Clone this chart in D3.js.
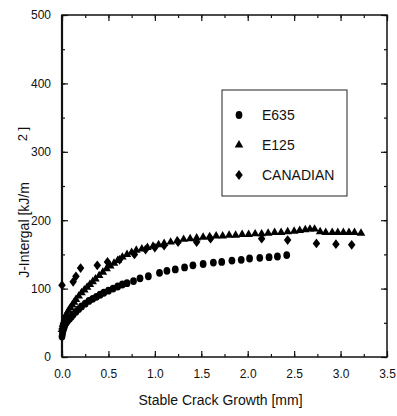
<!DOCTYPE html>
<html>
<head>
<meta charset="utf-8">
<script src="https://cdn.jsdelivr.net/npm/d3@7"></script>
<style>
  body { margin: 0; background: #fff; }
  text { font-family: "Liberation Sans", Arial, sans-serif; fill: #111; }
</style>
</head>
<body>
<div id="chart"></div>
<script>
// E635 (circles)
const e635X = [0, 0.005, 0.01, 0.02, 0.03, 0.045, 0.06, 0.08, 0.1, 0.12, 0.15, 0.18, 0.21, 0.25, 0.29, 0.33, 0.37, 0.41, 0.45, 0.5, 0.55, 0.6, 0.65, 0.7, 0.77, 0.84, 0.93, 1.05, 1.13, 1.22, 1.32, 1.41, 1.52, 1.63, 1.72, 1.83, 1.93, 2.02, 2.13, 2.23, 2.32, 2.42];
const e635Y = [30, 34, 38, 42, 46, 50, 53, 56, 59, 62, 66, 70, 74, 78, 82, 85, 88, 91, 94, 97, 100, 103, 106, 108, 111, 115, 118, 123, 126, 128, 131, 134, 136, 138, 139, 141, 142, 144, 145, 146, 147, 149];
// E125 (triangles)
const e125X = [0, 0.005, 0.01, 0.02, 0.03, 0.04, 0.05, 0.07, 0.09, 0.11, 0.13, 0.15, 0.18, 0.21, 0.24, 0.27, 0.3, 0.33, 0.36, 0.4, 0.44, 0.48, 0.52, 0.56, 0.6, 0.65, 0.7, 0.75, 0.8, 0.86, 0.92, 0.98, 1.04, 1.1, 1.17, 1.24, 1.31, 1.38, 1.45, 1.52, 1.59, 1.66, 1.73, 1.8, 1.87, 1.94, 2.01, 2.08, 2.15, 2.22, 2.29, 2.36, 2.43, 2.5, 2.56, 2.62, 2.67, 2.72, 2.78, 2.84, 2.91, 2.97, 3.03, 3.09, 3.15, 3.22];
const e125Y = [40, 44, 48, 52, 56, 60, 63, 68, 72, 76, 80, 84, 89, 94, 98, 102, 106, 110, 114, 119, 124, 129, 133, 137, 141, 146, 150, 153, 156, 158, 160, 162, 164, 166, 168, 170, 172, 173, 174, 175, 176, 177, 177, 178, 178, 179, 179, 180, 180, 181, 182, 182, 183, 184, 185, 186, 187, 187, 183, 182, 182, 182, 182, 182, 182, 181];
// CANADIAN (diamonds)
const canX = [0.0, 0.12, 0.15, 0.2, 0.38, 0.49, 0.62, 0.78, 0.9, 1.0, 1.1, 1.25, 1.45, 1.6, 2.15, 2.43, 2.74, 2.95, 3.12];
const canY = [105, 110, 118, 130, 134, 139, 142, 150, 157, 160, 163, 168, 168, 173, 173, 171, 166, 165, 164];

const seriesNames = ["E635", "E125", "CANADIAN"];
const xTicks = [0, 0.5, 1.0, 1.5, 2.0, 2.5, 3.0, 3.5];
const yTicks = [0, 100, 200, 300, 400, 500];
const xTitle = "Stable Crack Growth [mm]";
const yTitle = "J-Intergal [kJ/m";
const yTitleSup = "2 ]";

const width = 397, height = 416;
const margin = { top: 15, right: 10, bottom: 59, left: 62 };
const w = width - margin.left - margin.right;
const h = height - margin.top - margin.bottom;

const svg = d3.select("#chart").append("svg")
    .attr("width", width).attr("height", height);
const g = svg.append("g").attr("transform", `translate(${margin.left},${margin.top})`);

const x = d3.scaleLinear().domain([0, 3.5]).range([0, w]);
const y = d3.scaleLinear().domain([0, 500]).range([h, 0]);

const xMinor = d3.range(0, 3.5001, 0.25);
const yMinor = d3.range(0, 500.1, 50);

//Axes with inward ticks
function styleAxis(sel) {
    sel.select(".domain").remove();
    sel.selectAll("line").attr("stroke", "#111").attr("stroke-width", 1.2);
    sel.selectAll("text").attr("font-size", 12).attr("fill", "#111");
}
g.append("g").attr("transform", `translate(0,${h})`)
    .call(d3.axisBottom(x).tickValues(xMinor).tickSize(-3).tickFormat(""))
    .call(styleAxis);
g.append("g").attr("transform", `translate(0,${h})`)
    .call(d3.axisBottom(x).tickValues(xTicks).tickSize(-6).tickPadding(12).tickFormat(d3.format(".1f")))
    .call(styleAxis);
g.append("g")
    .call(d3.axisTop(x).tickValues(xMinor).tickSize(-3).tickFormat(""))
    .call(styleAxis);
g.append("g")
    .call(d3.axisTop(x).tickValues(xTicks).tickSize(-6).tickFormat(""))
    .call(styleAxis);
g.append("g")
    .call(d3.axisLeft(y).tickValues(yMinor).tickSize(-3).tickFormat(""))
    .call(styleAxis);
g.append("g")
    .call(d3.axisLeft(y).tickValues(yTicks).tickSize(-6).tickPadding(11).tickFormat(d3.format("d")))
    .call(styleAxis);
g.append("g").attr("transform", `translate(${w},0)`)
    .call(d3.axisRight(y).tickValues(yMinor).tickSize(-3).tickFormat(""))
    .call(styleAxis);
g.append("g").attr("transform", `translate(${w},0)`)
    .call(d3.axisRight(y).tickValues(yTicks).tickSize(-6).tickFormat(""))
    .call(styleAxis);

//Frame
g.append("rect").attr("width", w).attr("height", h)
    .attr("fill", "none").attr("stroke", "#111").attr("stroke-width", 1.5);
g.append("line").attr("x1", 0).attr("x2", 0).attr("y1", 0).attr("y2", h)
    .attr("stroke", "#111").attr("stroke-width", 2.2);

//Markers
const shapes = [d3.symbolCircle, d3.symbolTriangle, d3.symbolDiamond];
const sizes = [40, 32, 34];
const stretch = [" scale(0.95,1.1)", "", " scale(1.2,0.9)"];
const sets = [
    e635X.map((v, i) => ({ x: v, y: e635Y[i] })),
    e125X.map((v, i) => ({ x: v, y: e125Y[i] })),
    canX.map((v, i) => ({ x: v, y: canY[i] }))
];
[0, 1, 2].forEach(k => {
    g.append("g").selectAll("path")
        .data(sets[k])
        .enter().append("path")
        .attr("d", d3.symbol().type(shapes[k]).size(sizes[k]))
        .attr("transform", d => `translate(${x(d.x)},${y(d.y)})` + stretch[k])
        .attr("fill", "#000");
});

//Legend
const lg = svg.append("g").attr("transform", "translate(222,90)");
lg.append("rect").attr("width", 125).attr("height", 106)
    .attr("fill", "#fff").attr("stroke", "#222").attr("stroke-width", 1);
seriesNames.forEach((name, i) => {
    const cy = 25 + i * 30;
    lg.append("path")
        .attr("d", d3.symbol().type(shapes[i]).size(sizes[i])())
        .attr("transform", `translate(17,${cy})` + stretch[i])
        .attr("fill", "#000");
    lg.append("text").attr("x", 40).attr("y", cy + 5)
        .attr("font-size", 14).text(name);
});

//Axis titles
svg.append("text")
    .attr("x", margin.left + w / 2 - 4).attr("y", 405)
    .attr("text-anchor", "middle").attr("font-size", 14)
    .text(xTitle);
svg.append("text")
    .attr("transform", "translate(29,230) rotate(-90)")
    .attr("text-anchor", "middle").attr("font-size", 14)
    .text(yTitle);
svg.append("text")
    .attr("transform", "translate(27,134) rotate(-90)")
    .attr("text-anchor", "middle").attr("font-size", 13)
    .text(yTitleSup);
</script>
</body>
</html>
